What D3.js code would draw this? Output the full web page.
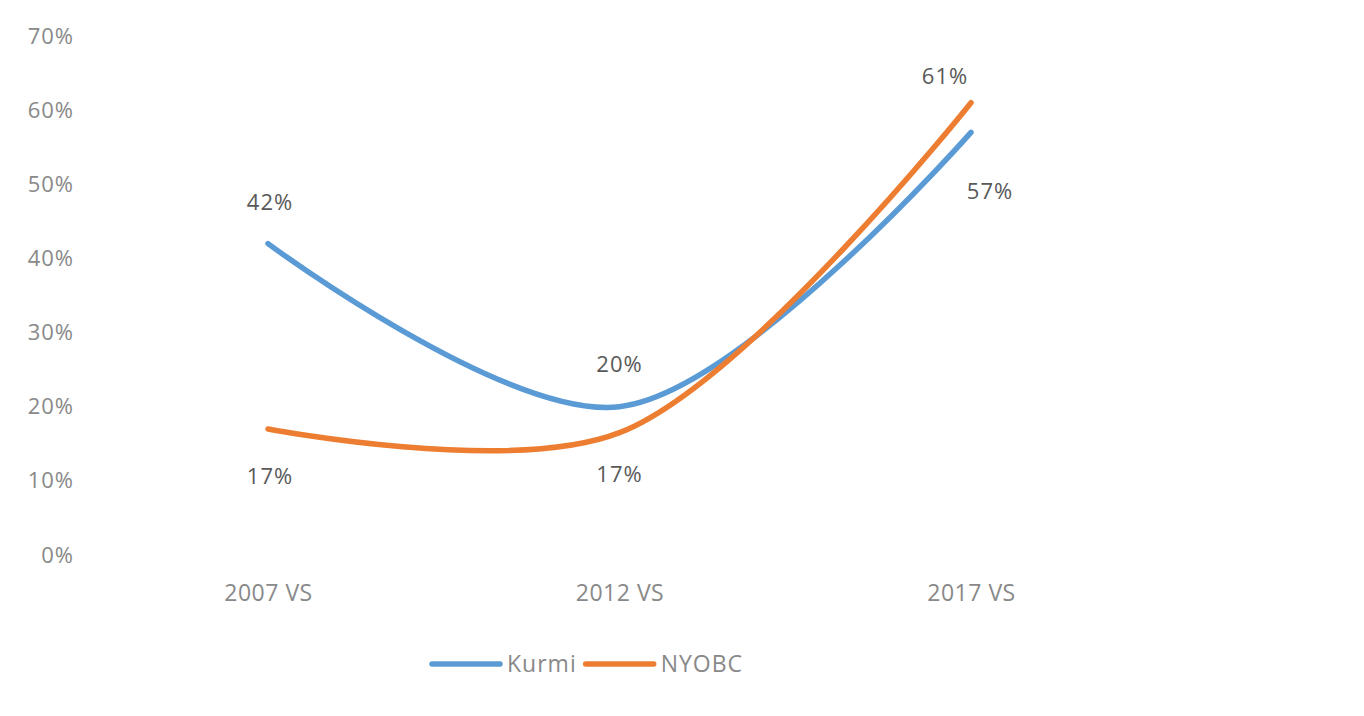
<!DOCTYPE html>
<html>
<head>
<meta charset="utf-8">
<script src="https://cdn.jsdelivr.net/npm/d3@7"></script>
<style>
  body { margin: 0; background: #fff; }
  text { font-family: "Open Sans", sans-serif; }
</style>
</head>
<body>
<div id="chart"></div>
<script>
// chart data
var categories = ["2007 VS", "2012 VS", "2017 VS"]
var kurmi = [0.42, 0.20, 0.57]
var nyobc = [0.17, 0.165, 0.61]
var seriesNames = ["Kurmi", "NYOBC"]
var yTicks = [0, 0.1, 0.2, 0.3, 0.4, 0.5, 0.6, 0.7]

var width = 1364
var height = 716
var colors = ["#5b9bd5", "#ed7d31"]

// label offsets (dx, dy) from each point, Excel style placement
var labelOffsets = [
    [[2, -34], [0, -35], [19, 67]],
    [[2, 55], [0, 49], [-26, -19]]
]

var svg = d3.select("#chart")
    .append("svg")
    .attr("width", width)
    .attr("height", height)

var xScale = d3.scalePoint().domain(categories).range([268, 971])
var yScale = d3.scaleLinear().domain([0, 0.7]).range([555, 36])

// y axis
var yAxis = svg.append("g")
    .attr("transform", "translate(80,0)")
    .call(d3.axisLeft(yScale)
        .tickValues(yTicks)
        .tickSize(0)
        .tickPadding(6)
        .tickFormat(d3.format(".0%")))
yAxis.select(".domain").remove()
yAxis.selectAll("text")
    .attr("fill", "#898989")
    .style("font-size", "22px")
    .style("letter-spacing", "1px")
    .style("font-family", "'Open Sans', sans-serif")

// x axis
var xAxis = svg.append("g")
    .attr("transform", "translate(0,579)")
    .call(d3.axisBottom(xScale).tickSize(0).tickPadding(0))
xAxis.select(".domain").remove()
xAxis.selectAll("text")
    .attr("fill", "#898989")
    .attr("dy", "0.95em")
    .style("font-size", "23px")
    .style("letter-spacing", "0.5px")
    .style("font-family", "'Liberation Sans Narrow', 'Open Sans', sans-serif")

var line = d3.line()
    .x(function (d, i) { return xScale(categories[i]) })
    .y(function (d) { return yScale(d) })
    .curve(d3.curveCatmullRom.alpha(0.5))

var allSeries = [kurmi, nyobc]

svg.selectAll(".series")
    .data(allSeries)
    .enter()
    .append("path")
    .attr("class", "series")
    .attr("d", line)
    .attr("fill", "none")
    .attr("stroke", function (d, i) { return colors[i] })
    .attr("stroke-width", 5.5)
    .attr("stroke-linecap", "round")

// data labels
allSeries.forEach(function (values, s) {
    svg.selectAll(".label-" + s)
        .data(values)
        .enter()
        .append("text")
        .attr("class", "label-" + s)
        .attr("x", function (d, i) { return xScale(categories[i]) + labelOffsets[s][i][0] })
        .attr("y", function (d, i) { return yScale(d) + labelOffsets[s][i][1] })
        .attr("text-anchor", "middle")
        .attr("fill", "#595959")
        .style("font-size", "22px")
        .style("letter-spacing", "1px")
        .text(function (d) { return Math.round(d * 100) + "%" })
})

// legend
var legend = svg.append("g").attr("transform", "translate(432,664)")
var lx = 0
seriesNames.forEach(function (name, i) {
    legend.append("line")
        .attr("x1", lx).attr("x2", lx + 68)
        .attr("y1", 0).attr("y2", 0)
        .attr("stroke", colors[i])
        .attr("stroke-width", 5.5)
        .attr("stroke-linecap", "round")
    var t = legend.append("text")
        .attr("x", lx + 75)
        .attr("y", 8)
        .attr("fill", "#898989")
        .style("font-size", "23px")
        .style("letter-spacing", "1px")
        .text(name)
    lx = lx + 75 + t.node().getComputedTextLength() + 9
})
</script>
</body>
</html>
